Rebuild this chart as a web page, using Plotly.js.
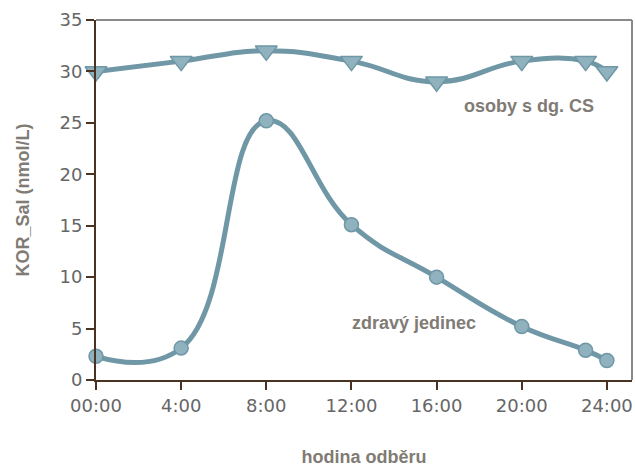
<!DOCTYPE html>
<html>
<head>
<meta charset="utf-8">
<script src="https://cdn.plot.ly/plotly-3.0.1.min.js"></script>
<style>html,body{margin:0;padding:0;background:#fff;}#chart{width:635px;height:468px;}</style>
</head>
<body>
<div id="chart"></div>
<script>
// Data (hours of sampling, KOR_Sal nmol/L)
var hoursCS = [0, 4, 8, 12, 16, 20, 23, 24];
var valuesCS = [30, 31, 32, 31, 29, 31, 31, 30];
var hoursHealthy = [0, 4, 8, 12, 16, 20, 23, 24];
var valuesHealthy = [2.3, 3.1, 25.2, 15.1, 10.0, 5.2, 2.9, 1.9];
var tickVals = [0, 4, 8, 12, 16, 20, 24];
var tickText = ["00:00", "4:00", "8:00", "12:00", "16:00", "20:00", "24:00"];
var yTickVals = [0, 5, 10, 15, 20, 25, 30, 35];
var labelCS = "osoby s dg. CS";
var labelHealthy = "zdravý jedinec";
var xTitle = "hodina odběru";
var yTitle = "KOR_Sal (nmol/L)";

var lineColor = "#6f97a6";
var fillColor = "#8fb2be";
var textColor = "#807b74";
var axisColor = "#4a3322";
var labelFont = "Liberation Sans, Arial, sans-serif";

var traces = [
  {
    x: hoursCS, y: valuesCS, type: "scatter", mode: "lines+markers",
    line: {color: lineColor, width: 5, shape: "spline", smoothing: 1.3},
    marker: {symbol: "triangle-down", size: 19, color: fillColor, line: {color: lineColor, width: 1.5}},
    cliponaxis: false, hoverinfo: "skip"
  },
  {
    x: hoursHealthy, y: valuesHealthy, type: "scatter", mode: "lines+markers",
    line: {color: lineColor, width: 5, shape: "spline", smoothing: 1.3},
    marker: {symbol: "circle", size: 14, color: fillColor, line: {color: lineColor, width: 1.5}},
    cliponaxis: false, hoverinfo: "skip"
  }
];

var layout = {
  width: 635, height: 468,
  margin: {l: 96, r: 3, t: 20, b: 88},
  paper_bgcolor: "#fff", plot_bgcolor: "#fff",
  showlegend: false,
  font: {family: "DejaVu Sans, sans-serif", color: "#5f5f5f"},
  xaxis: {
    range: [0, 25.18], tickvals: tickVals, ticktext: tickText,
    showgrid: false, zeroline: false, showline: true, linecolor: axisColor, linewidth: 2,
    ticks: "outside", ticklen: 8, tickwidth: 2, tickcolor: axisColor,
    tickfont: {size: 18, color: "#666666", family: "DejaVu Sans, sans-serif"},
    title: {text: xTitle, font: {size: 18, color: textColor, family: labelFont, weight: "bold"}, standoff: 36}
  },
  yaxis: {
    range: [0, 35], tickvals: yTickVals,
    showgrid: false, zeroline: false, showline: true, linecolor: axisColor, linewidth: 2,
    ticks: "outside", ticklen: 8, tickwidth: 2, tickcolor: axisColor,
    tickfont: {size: 18, color: "#666666", family: "DejaVu Sans, sans-serif"},
    title: {text: yTitle, font: {size: 18, color: textColor, family: labelFont, weight: "bold"}, standoff: 25}
  },
  shapes: [
    {type: "line", xref: "paper", yref: "paper", x0: 0, x1: 1, y0: 1, y1: 1, line: {color: "#8a8a8a", width: 2}},
    {type: "line", xref: "paper", yref: "paper", x0: 1, x1: 1, y0: 0, y1: 1, line: {color: "#8a8a8a", width: 2}}
  ],
  annotations: [
    {x: 17.2, y: 26.6, xref: "x", yref: "y", text: labelCS, showarrow: false, xanchor: "left",
     font: {size: 18, color: textColor, family: labelFont, weight: "bold"}},
    {x: 11.95, y: 5.5, xref: "x", yref: "y", text: labelHealthy, showarrow: false, xanchor: "left",
     font: {size: 18, color: textColor, family: labelFont, weight: "bold"}}
  ]
};

Plotly.newPlot("chart", traces, layout, {displayModeBar: false, staticPlot: true});
</script>
</body>
</html>
